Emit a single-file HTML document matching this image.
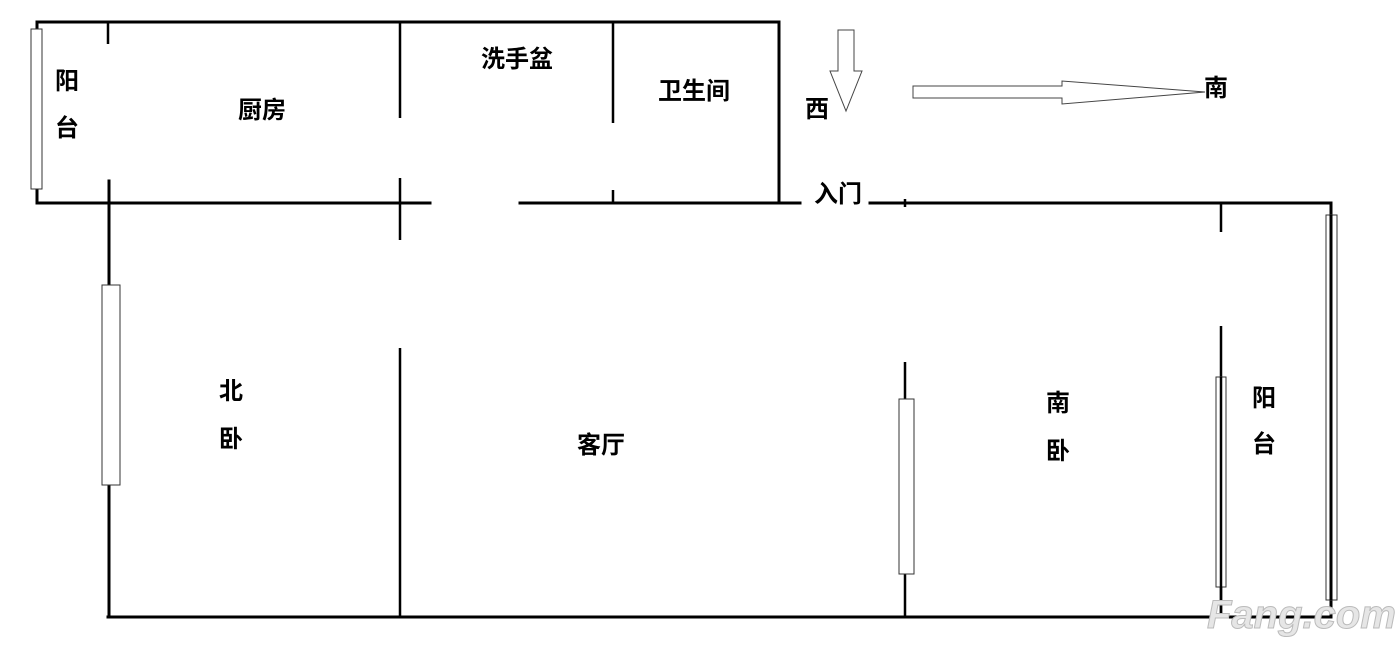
<!DOCTYPE html>
<html><head><meta charset="utf-8"><style>
html,body{margin:0;padding:0;background:#fff;}
svg{display:block}
text{font-family:"Liberation Sans","Noto Sans CJK SC",sans-serif;font-weight:bold;font-size:24px;fill:#000}
</style></head><body>
<svg width="1400" height="653" viewBox="0 0 1400 653" xmlns="http://www.w3.org/2000/svg">
<g stroke="#000" stroke-width="3" fill="none" stroke-linecap="square">
<polyline points="37,203 37,22 779,22 779,203"/>
<line x1="37" y1="203" x2="430" y2="203"/>
<line x1="520" y1="203" x2="800" y2="203"/>
<line x1="870" y1="203" x2="1331" y2="203"/>
<line x1="1331" y1="203" x2="1331" y2="617"/>
<line x1="108" y1="617" x2="1331" y2="617"/>
<line x1="109" y1="181" x2="109" y2="617"/>
</g>
<g stroke="#000" stroke-width="2.5" fill="none">
<line x1="108" y1="22" x2="108" y2="44"/>
<line x1="400" y1="22" x2="400" y2="118"/>
<line x1="400" y1="178" x2="400" y2="240"/>
<line x1="400" y1="348" x2="400" y2="617"/>
<line x1="613" y1="22" x2="613" y2="123"/>
<line x1="613" y1="190" x2="613" y2="203"/>
<line x1="905" y1="199" x2="905" y2="207"/>
<line x1="1221" y1="203" x2="1221" y2="232"/>
<line x1="1221" y1="326" x2="1221" y2="617"/>
<line x1="905" y1="362" x2="905" y2="617"/>
</g>
<g stroke="#333" stroke-width="1" fill="#fff">
<rect x="31" y="29" width="11" height="160"/>
<rect x="102" y="285" width="18" height="200"/>
<rect x="899" y="399" width="15" height="175"/>
<rect x="1216" y="377" width="10" height="210"/>
<rect x="1326" y="215" width="11" height="385"/>
</g>
<line x1="1221" y1="377" x2="1221" y2="617" stroke="#000" stroke-width="2.5"/>
<line x1="1331" y1="215" x2="1331" y2="600" stroke="#000" stroke-width="3"/>
<g stroke="#444" stroke-width="1" fill="#fff">
<polygon points="838,30 854,30 854,71 862,71 846,111 830,71 838,71"/>
<polygon points="913,86 1062,86 1062,81 1205,92 1062,104 1062,98 913,98"/>
</g>
<text x="55" y="89">阳</text>
<text x="55" y="136">台</text>
<text x="238" y="118">厨房</text>
<text x="481" y="67">洗手盆</text>
<text x="658" y="99">卫生间</text>
<text x="805" y="117">西</text>
<text x="1204" y="96">南</text>
<text x="814" y="202">入门</text>
<text x="219" y="399">北</text>
<text x="219" y="447">卧</text>
<text x="577" y="453">客厅</text>
<text x="1046" y="411">南</text>
<text x="1046" y="459">卧</text>
<text x="1252" y="406">阳</text>
<text x="1252" y="452">台</text>
<text x="1207" y="628" style="font-size:40px;font-style:italic;fill:#e6e6e6;stroke:#bbb;stroke-width:1">Fang.com</text>
</svg>
</body></html>
